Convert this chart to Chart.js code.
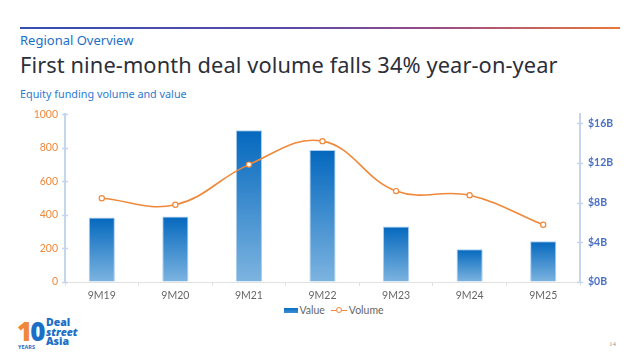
<!DOCTYPE html>
<html>
<head>
<meta charset="utf-8">
<script src="https://cdn.jsdelivr.net/npm/chart.js@4"></script>
<style>
  html,body{margin:0;padding:0;background:#fff;}
  body{width:640px;height:360px;position:relative;overflow:hidden;font-family:"Noto Sans",sans-serif;}
  #topline{position:absolute;left:20px;top:27px;width:600px;height:2px;
    background:linear-gradient(90deg,#3550b0 0%,#5a4aa8 45%,#9a4c86 70%,#e8783a 100%);}
  #kicker{position:absolute;left:20px;top:31px;font-size:13px;color:#1c6fc6;}
  #title{position:absolute;left:20px;top:50px;font-size:21.8px;color:#2c2f3a;letter-spacing:0.1px;white-space:nowrap;}
  #sub{position:absolute;left:20px;top:86px;font-size:10.8px;color:#2c7bd0;}
  #wrap{position:absolute;left:0;top:100px;width:640px;height:200px;}
  #legend{position:absolute;left:14px;width:640px;top:303px;text-align:center;font-family:Lato,sans-serif;font-size:10.5px;color:#666;}
  #legend span{display:inline-block;vertical-align:middle;}
  .sw-bar{width:14px;height:5px;background:linear-gradient(#0a6ec2,#3c8fd6);margin-right:1px;}
  .sw-line{width:16px;height:1.5px;background:#f0883a;position:relative;margin:0 2px 0 6px;}
  .sw-line i{position:absolute;left:5px;top:-2.5px;width:4px;height:4px;border:1px solid #f0883a;border-radius:50%;background:#fff;}
  #logo{position:absolute;left:12px;top:318px;width:80px;height:36px;font-family:"Open Sans",sans-serif;}
  #logo .ten{position:absolute;left:5px;top:-5px;font-size:26px;font-weight:800;color:#1c6fc6;letter-spacing:-2px;}
  #logo .ten b{color:#f0883a;}
  #logo .yrs{position:absolute;left:6px;top:25px;font-size:5.5px;font-weight:700;color:#1c6fc6;}
  #logo .ds{position:absolute;left:34px;top:0px;font-size:10.5px;line-height:9.5px;font-weight:800;color:#1c6fc6;}
  #logo .ds em{font-style:italic;}
  #page{position:absolute;left:609px;top:340px;font-size:7px;color:#999;font-family:"Liberation Serif",serif;}
</style>
</head>
<body>
<div id="topline"></div>
<div id="kicker">Regional Overview</div>
<div id="title">First nine-month deal volume falls 34% year-on-year</div>
<div id="sub">Equity funding volume and value</div>
<div id="wrap"><canvas id="chart" width="640" height="200"></canvas></div>
<div id="legend"><span class="sw-bar"></span><span>Value</span><span class="sw-line"><i></i></span><span>Volume</span></div>
<div id="logo"><div class="ten"><b>1</b>0</div><div class="yrs">YEARS</div><div class="ds">Deal<br><em>street</em><br>Asia</div></div>
<div id="page">14</div>
<script>
// ===================== Daten =====================
const periods = ["9M19","9M20","9M21","9M22","9M23","9M24","9M25"];
const valueBn = [6.5, 6.6, 15.3, 13.3, 5.6, 3.3, 4.1];   // $B, rechte Achse
const volume  = [499, 461, 700, 840, 542, 517, 341];     // Deals, linke Achse
const volumeTicks = [0, 200, 400, 600, 800, 1000];
const valueTicks  = [0, 4, 8, 12, 16];

// ===================== Achsen-Striche =====================
const crossTicks = {
    id:"crossTicks",
    afterDraw(c){
        const ctx = c.ctx;
        ctx.save();
        ctx.strokeStyle = "#c6d5ee";
        ctx.lineWidth = 1.5;
        [["y",c.scales.y.right],["y2",c.scales.y2.left]].forEach(([id,x])=>{
            c.scales[id].ticks.forEach(t=>{
                const py = Math.round(c.scales[id].getPixelForValue(t.value))+0.5;
                ctx.beginPath(); ctx.moveTo(x-3,py); ctx.lineTo(x+3,py); ctx.stroke();
            });
        });
        ctx.restore();
    }
};

const canvas = document.getElementById("chart");

// Verlauf pro Balken: oben dunkel, unten hell
function barGradient(context){
    const chart = context.chart;
    const s = chart.scales.y2;
    if(!chart.chartArea || !s || context.raw==null) return "#1a73c4";
    const top = s.getPixelForValue(context.raw), bottom = s.getPixelForValue(0);
    const g = chart.ctx.createLinearGradient(0, top, 0, bottom);
    g.addColorStop(0, "#0468be");
    g.addColorStop(1, "#7db4e0");
    return g;
}

new Chart(canvas, {
    data:{
        labels: periods,
        datasets:[
            {type:"line", label:"Volume", data:volume, yAxisID:"y",
             borderColor:"#f0883a", borderWidth:1.6, tension:0.4,
             pointRadius:2.6, pointBorderWidth:1.2, pointBackgroundColor:"#fff", pointBorderColor:"#f0883a", order:0},
            {type:"bar", label:"Value", data:valueBn, yAxisID:"y2",
             backgroundColor:barGradient, borderColor:"#a9cdee", borderWidth:1,
             barPercentage:0.355, categoryPercentage:1, order:1}
        ]
    },
    options:{
        responsive:false, animation:false, devicePixelRatio:1,
        layout:{padding:{top:13,left:0,right:0,bottom:0}},
        plugins:{legend:{display:false}, tooltip:{enabled:false}},
        scales:{
            x:{
                offset:true,
                grid:{offset:true, drawOnChartArea:false, tickLength:4, color:"#e2e2e2"},
                border:{color:"#e2e2e2", width:1},
                ticks:{font:{family:"Lato", size:10.5}, color:"#666", padding:3, maxRotation:0},
                afterFit(s){ s.height = 18; }
            },
            y:{
                position:"left", min:0, max:1000,
                afterBuildTicks(s){ s.ticks = volumeTicks.map(v=>({value:v})); },
                grid:{drawOnChartArea:false, drawTicks:false},
                border:{color:"#c6d5ee", width:2},
                ticks:{font:{family:"Lato", size:10.5}, color:"#f0883a", padding:7, callback:v=>String(v)},
                afterFit(s){ s.width = 65; }
            },
            y2:{
                position:"right", min:0, max:16.9,
                afterBuildTicks(s){ s.ticks = valueTicks.map(v=>({value:v})); },
                grid:{drawOnChartArea:false, drawTicks:false},
                border:{color:"#c6d5ee", width:2},
                ticks:{font:{family:"Lato", size:10.5, weight:"700"}, color:"#4a70c6", padding:8,
                       callback:v=>"$"+v+"B"},
                afterFit(s){ s.width = 60; }
            }
        }
    },
    plugins:[crossTicks]
});
</script>
</body>
</html>
